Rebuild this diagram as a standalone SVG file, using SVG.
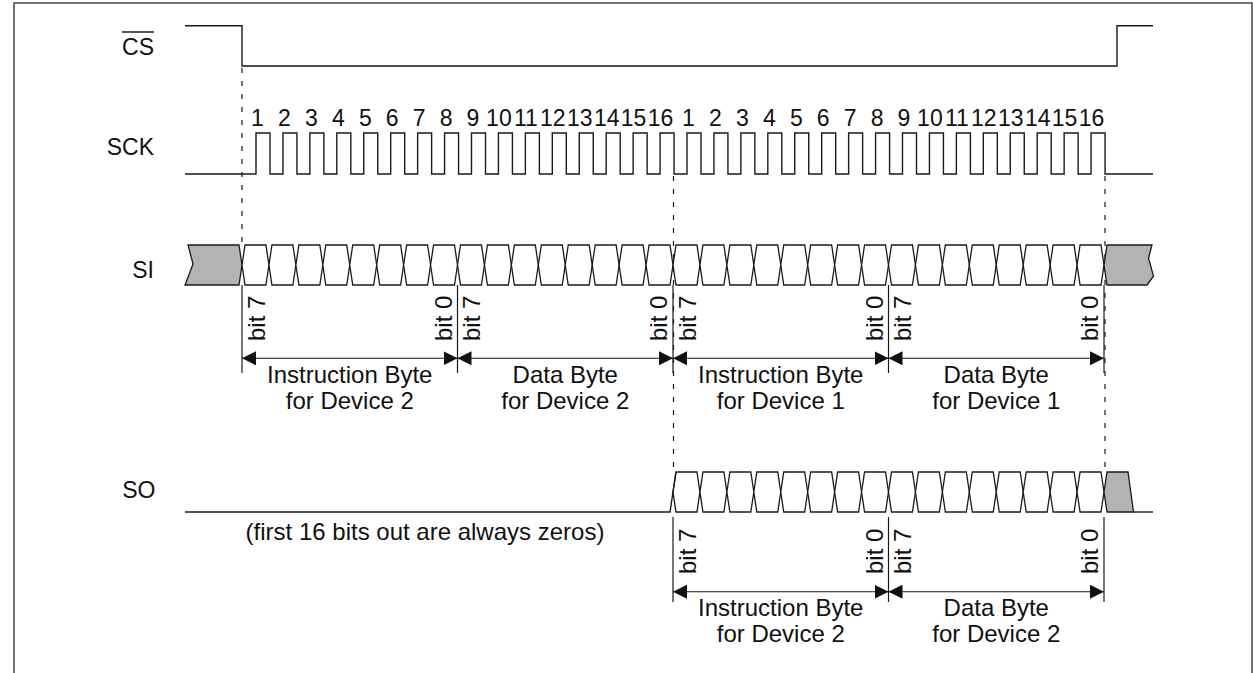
<svg xmlns="http://www.w3.org/2000/svg" xmlns:xlink="http://www.w3.org/1999/xlink" width="1253" height="673" viewBox="0 0 1253 673">
<style>
.sig{fill:none;stroke:#1a1a1a;stroke-width:1.4}
.cell{fill:#fff;stroke:#1a1a1a;stroke-width:1.3}
.grey{fill:#b3b3b3;stroke:#1a1a1a;stroke-width:1.3}
.dash{fill:none;stroke:#1a1a1a;stroke-width:1.2;stroke-dasharray:5 8}
.tick{fill:none;stroke:#1a1a1a;stroke-width:1.2}
.arr{fill:none;stroke:#1a1a1a;stroke-width:1.1;marker-start:url(#ah);marker-end:url(#ah)}
text{font-family:"Liberation Sans",Arial,Helvetica,sans-serif;font-size:23px;fill:#111}
.lbl{text-anchor:end}
.num{text-anchor:middle}
.mid{text-anchor:middle;font-size:24px}
.bit{font-size:24px}
</style>
<defs>
<marker id="ah" viewBox="0 0 14 14" refX="14" refY="7" markerWidth="14" markerHeight="14" markerUnits="userSpaceOnUse" orient="auto-start-reverse">
<path d="M0,0 L14,7 L0,14 Z" fill="#111"/>
</marker>
<polygon id="cell" class="cell" points="0,20 3,0 23.94,0 26.94,20 23.94,40 3,40"/>
</defs>

<g id="frame" fill="none" stroke="#444" stroke-width="1.5">
<path d="M14,673 V3 H1252 V673"/>
</g>

<g id="labels">
<text class="lbl" x="154" y="54.5">CS</text>
<line x1="122" y1="32" x2="154" y2="32" stroke="#111" stroke-width="1.4"/>
<text class="lbl" x="154" y="155">SCK</text>
<text class="lbl" x="154" y="278">SI</text>
<text class="lbl" x="155.5" y="498">SO</text>
</g>

<g id="connectors">
<line class="dash" x1="242" y1="68" x2="242" y2="245"/>
<line class="dash" x1="673.5" y1="176" x2="673.5" y2="472"/>
<line class="dash" x1="1105" y1="176" x2="1105" y2="472"/>
</g>

<g id="cs">
<path class="sig" d="M185,25.7 H242 V66 H1117 V25.7 H1153"/>
</g>

<g id="sck">
<path class="sig" d="M185,174 H256 V133 H270 V174 H282.94 V133 H296.94 V174 H309.88 V133 H323.88 V174 H336.81 V133 H350.81 V174 H363.75 V133 H377.75 V174 H390.69 V133 H404.69 V174 H417.63 V133 H431.63 V174 H444.56 V133 H458.56 V174 H471.5 V133 H485.5 V174 H498.44 V133 H512.44 V174 H525.38 V133 H539.38 V174 H552.31 V133 H566.31 V174 H579.25 V133 H593.25 V174 H606.19 V133 H620.19 V174 H633.13 V133 H647.13 V174 H660.06 V133 H674.06 V174 H687 V133 H701 V174 H713.94 V133 H727.94 V174 H740.88 V133 H754.88 V174 H767.81 V133 H781.81 V174 H794.75 V133 H808.75 V174 H821.69 V133 H835.69 V174 H848.63 V133 H862.63 V174 H875.56 V133 H889.56 V174 H902.5 V133 H916.5 V174 H929.44 V133 H943.44 V174 H956.38 V133 H970.38 V174 H983.31 V133 H997.31 V174 H1010.25 V133 H1024.25 V174 H1037.19 V133 H1051.19 V174 H1064.13 V133 H1078.13 V174 H1091.06 V133 H1105.06 V174 H1153"/>
<text class="num" x="257.5" y="126">1</text>
<text class="num" x="284.4" y="126">2</text>
<text class="num" x="311.4" y="126">3</text>
<text class="num" x="338.3" y="126">4</text>
<text class="num" x="365.3" y="126">5</text>
<text class="num" x="392.2" y="126">6</text>
<text class="num" x="419.1" y="126">7</text>
<text class="num" x="446.1" y="126">8</text>
<text class="num" x="473" y="126">9</text>
<text class="num" x="498.9" y="126">10</text>
<text class="num" x="525.9" y="126">11</text>
<text class="num" x="552.8" y="126">12</text>
<text class="num" x="579.8" y="126">13</text>
<text class="num" x="606.7" y="126">14</text>
<text class="num" x="633.6" y="126">15</text>
<text class="num" x="660.6" y="126">16</text>
<text class="num" x="688.5" y="126">1</text>
<text class="num" x="715.4" y="126">2</text>
<text class="num" x="742.4" y="126">3</text>
<text class="num" x="769.3" y="126">4</text>
<text class="num" x="796.3" y="126">5</text>
<text class="num" x="823.2" y="126">6</text>
<text class="num" x="850.1" y="126">7</text>
<text class="num" x="877.1" y="126">8</text>
<text class="num" x="904" y="126">9</text>
<text class="num" x="929.9" y="126">10</text>
<text class="num" x="956.9" y="126">11</text>
<text class="num" x="983.8" y="126">12</text>
<text class="num" x="1010.8" y="126">13</text>
<text class="num" x="1037.7" y="126">14</text>
<text class="num" x="1064.6" y="126">15</text>
<text class="num" x="1091.6" y="126">16</text>
</g>

<g id="si">
<path class="grey" d="M188,245 L239,245 L242,265 L239,285 L185,285 L193,264 Z"/>
<use xlink:href="#cell" href="#cell" x="242" y="245"/>
<use xlink:href="#cell" href="#cell" x="268.94" y="245"/>
<use xlink:href="#cell" href="#cell" x="295.88" y="245"/>
<use xlink:href="#cell" href="#cell" x="322.81" y="245"/>
<use xlink:href="#cell" href="#cell" x="349.75" y="245"/>
<use xlink:href="#cell" href="#cell" x="376.69" y="245"/>
<use xlink:href="#cell" href="#cell" x="403.63" y="245"/>
<use xlink:href="#cell" href="#cell" x="430.56" y="245"/>
<use xlink:href="#cell" href="#cell" x="457.5" y="245"/>
<use xlink:href="#cell" href="#cell" x="484.44" y="245"/>
<use xlink:href="#cell" href="#cell" x="511.38" y="245"/>
<use xlink:href="#cell" href="#cell" x="538.31" y="245"/>
<use xlink:href="#cell" href="#cell" x="565.25" y="245"/>
<use xlink:href="#cell" href="#cell" x="592.19" y="245"/>
<use xlink:href="#cell" href="#cell" x="619.13" y="245"/>
<use xlink:href="#cell" href="#cell" x="646.06" y="245"/>
<use xlink:href="#cell" href="#cell" x="673" y="245"/>
<use xlink:href="#cell" href="#cell" x="699.94" y="245"/>
<use xlink:href="#cell" href="#cell" x="726.88" y="245"/>
<use xlink:href="#cell" href="#cell" x="753.81" y="245"/>
<use xlink:href="#cell" href="#cell" x="780.75" y="245"/>
<use xlink:href="#cell" href="#cell" x="807.69" y="245"/>
<use xlink:href="#cell" href="#cell" x="834.63" y="245"/>
<use xlink:href="#cell" href="#cell" x="861.56" y="245"/>
<use xlink:href="#cell" href="#cell" x="888.5" y="245"/>
<use xlink:href="#cell" href="#cell" x="915.44" y="245"/>
<use xlink:href="#cell" href="#cell" x="942.38" y="245"/>
<use xlink:href="#cell" href="#cell" x="969.31" y="245"/>
<use xlink:href="#cell" href="#cell" x="996.25" y="245"/>
<use xlink:href="#cell" href="#cell" x="1023.19" y="245"/>
<use xlink:href="#cell" href="#cell" x="1050.13" y="245"/>
<use xlink:href="#cell" href="#cell" x="1077.06" y="245"/>
<path class="grey" d="M1104,265 L1107,245 L1152,245 L1148.5,258 L1153.5,276 L1147,285 L1107,285 Z"/>
</g>

<g id="si-bytes">
<line class="tick" x1="242" y1="285" x2="242" y2="373"/>
<line class="tick" x1="457.5" y1="285" x2="457.5" y2="373"/>
<line class="tick" x1="673" y1="285" x2="673" y2="373"/>
<line class="tick" x1="888.5" y1="285" x2="888.5" y2="373"/>
<line class="tick" x1="1104" y1="285" x2="1104" y2="373"/>
<line class="arr" x1="242" y1="358.3" x2="457.5" y2="358.3"/>
<line class="arr" x1="457.5" y1="358.3" x2="673" y2="358.3"/>
<line class="arr" x1="673" y1="358.3" x2="888.5" y2="358.3"/>
<line class="arr" x1="888.5" y1="358.3" x2="1104" y2="358.3"/>
<text class="bit" transform="translate(264.5,341) rotate(-90)">bit 7</text>
<text class="bit" transform="translate(451.5,341) rotate(-90)">bit 0</text>
<text class="bit" transform="translate(480,341) rotate(-90)">bit 7</text>
<text class="bit" transform="translate(667,341) rotate(-90)">bit 0</text>
<text class="bit" transform="translate(695.5,341) rotate(-90)">bit 7</text>
<text class="bit" transform="translate(882.5,341) rotate(-90)">bit 0</text>
<text class="bit" transform="translate(911,341) rotate(-90)">bit 7</text>
<text class="bit" transform="translate(1098,341) rotate(-90)">bit 0</text>
<text class="mid" x="349.75" y="383">Instruction Byte</text>
<text class="mid" x="349.75" y="409">for Device 2</text>
<text class="mid" x="565.25" y="383">Data Byte</text>
<text class="mid" x="565.25" y="409">for Device 2</text>
<text class="mid" x="780.75" y="383">Instruction Byte</text>
<text class="mid" x="780.75" y="409">for Device 1</text>
<text class="mid" x="996.25" y="383">Data Byte</text>
<text class="mid" x="996.25" y="409">for Device 1</text>
</g>

<g id="so">
<use xlink:href="#cell" href="#cell" x="673" y="472"/>
<use xlink:href="#cell" href="#cell" x="699.94" y="472"/>
<use xlink:href="#cell" href="#cell" x="726.88" y="472"/>
<use xlink:href="#cell" href="#cell" x="753.81" y="472"/>
<use xlink:href="#cell" href="#cell" x="780.75" y="472"/>
<use xlink:href="#cell" href="#cell" x="807.69" y="472"/>
<use xlink:href="#cell" href="#cell" x="834.63" y="472"/>
<use xlink:href="#cell" href="#cell" x="861.56" y="472"/>
<use xlink:href="#cell" href="#cell" x="888.5" y="472"/>
<use xlink:href="#cell" href="#cell" x="915.44" y="472"/>
<use xlink:href="#cell" href="#cell" x="942.38" y="472"/>
<use xlink:href="#cell" href="#cell" x="969.31" y="472"/>
<use xlink:href="#cell" href="#cell" x="996.25" y="472"/>
<use xlink:href="#cell" href="#cell" x="1023.19" y="472"/>
<use xlink:href="#cell" href="#cell" x="1050.13" y="472"/>
<use xlink:href="#cell" href="#cell" x="1077.06" y="472"/>
<path class="sig" d="M185,512 H670 L676,472"/>
<path class="grey" d="M1104,492 L1107,472 L1128,472 L1133.5,512 L1107,512 Z"/>
<path class="sig" d="M1133.5,512 H1153"/>
<text class="mid" x="425" y="540">(first 16 bits out are always zeros)</text>
</g>

<g id="so-bytes">
<line class="tick" x1="673" y1="517" x2="673" y2="602"/>
<line class="tick" x1="888.5" y1="517" x2="888.5" y2="602"/>
<line class="tick" x1="1104" y1="517" x2="1104" y2="602"/>
<line class="arr" x1="673" y1="591.7" x2="888.5" y2="591.7"/>
<line class="arr" x1="888.5" y1="591.7" x2="1104" y2="591.7"/>
<text class="bit" transform="translate(695.5,574) rotate(-90)">bit 7</text>
<text class="bit" transform="translate(882.5,574) rotate(-90)">bit 0</text>
<text class="bit" transform="translate(911,574) rotate(-90)">bit 7</text>
<text class="bit" transform="translate(1098,574) rotate(-90)">bit 0</text>
<text class="mid" x="780.75" y="616">Instruction Byte</text>
<text class="mid" x="780.75" y="642">for Device 2</text>
<text class="mid" x="996.25" y="616">Data Byte</text>
<text class="mid" x="996.25" y="642">for Device 2</text>
</g>
</svg>
